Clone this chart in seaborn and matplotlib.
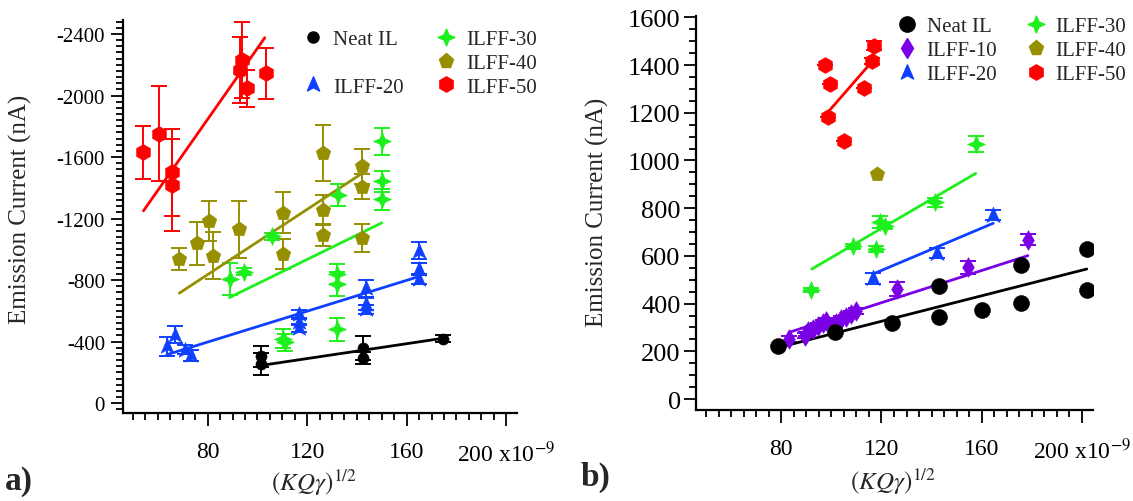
import numpy as np
import pandas as pd
import matplotlib
matplotlib.use('Agg')
import matplotlib.pyplot as plt
import seaborn as sns
from matplotlib.path import Path
from matplotlib.lines import Line2D
from matplotlib.ticker import MultipleLocator, FixedLocator, FixedFormatter

sns.set_theme(style='ticks')
plt.rcParams['font.family'] = ['Liberation Serif', 'DejaVu Serif']
plt.rcParams['mathtext.fontset'] = 'stix'
plt.rcParams['axes.unicode_minus'] = False

# ---------------- panel a) data ----------------
neat_a_x = [101.4, 101.4, 142.6, 142.6, 174.7]
neat_a_y = [-304, -256, -358, -293, -420]
neat_a_err = [70, 72, 80, 40, 22]
neat_a_fit_x = [101.4, 174.7]
neat_a_fit_y = [-245, -422]

ilff20_a_x = [63.6, 66.9, 71.0, 73.3, 116.9, 116.9, 116.9, 143.5, 143.5, 143.5, 165.1, 165.1, 165.1]
ilff20_a_y = [-369, -446, -348, -310, -577, -530, -490, -746, -643, -610, -992, -872, -807]
ilff20_a_err = [64, 57, 30, 35, 30, 25, 25, 55, 40, 30, 55, 40, 30]
ilff20_a_fit_x = [63.6, 165.1]
ilff20_a_fit_y = [-315, -824]

ilff30_a_x = [88.8, 94.8, 105.8, 110.4, 111.1, 132.1, 132.1, 132.1, 132.5, 150.0, 150.0, 150.0]
ilff30_a_y = [-807, -855, -1084, -420, -395, -839, -774, -479, -1353, -1703, -1441, -1325]
ilff30_a_err = [107, 25, 25, 60, 55, 66, 77, 73, 71, 87, 66, 70]
ilff30_a_fit_x = [88.8, 150.0]
ilff30_a_fit_y = [-687, -1172]

ilff40_a_x = [68.6, 75.7, 80.7, 82.3, 92.7, 110.4, 110.4, 126.5, 126.5, 126.5, 142.2, 142.2, 142.2]
ilff40_a_y = [-938, -1040, -1182, -959, -1130, -1239, -970, -1626, -1255, -1091, -1539, -1408, -1073]
ilff40_a_err = [71, 140, 131, 155, 186, 131, 100, 184, 98, 71, 115, 83, 90]
ilff40_a_fit_x = [68.6, 142.2]
ilff40_a_fit_y = [-715, -1495]

ilff50_a_x = [54.2, 60.6, 65.7, 65.7, 93.7, 93.0, 95.7, 103.4]
ilff50_a_y = [-1631, -1751, -1500, -1418, -2231, -2166, -2046, -2144]
ilff50_a_err = [173, 309, 282, 300, 249, 214, 120, 167]
ilff50_a_fit_x = [54.2, 103.0]
ilff50_a_fit_y = [-1250, -2376]

# ---------------- panel b) data ----------------
neat_b_x = [78.9, 101.3, 124.3, 143.0, 143.0, 160.2, 175.6, 175.6, 202.1, 202.1]
neat_b_y = [223, 282, 319, 472, 343, 374, 562, 401, 629, 457]
neat_b_fit_x = [79.3, 201.9]
neat_b_fit_y = [217, 545]

ilff10_b_x = [83.0, 89.3, 89.8, 90.7, 92.7, 94.7, 96.7, 98.0, 102.0, 104.0, 106.0, 108.0, 109.7, 126.0, 154.6, 178.4]
ilff10_b_y = [252, 265, 273, 286, 293, 307, 319, 328, 319, 335, 342, 356, 370, 461, 552, 668]
ilff10_b_err = [12, 10, 10, 12, 12, 12, 12, 12, 12, 12, 12, 12, 12, 28, 28, 22]
ilff10_b_fit_x = [83.3, 178.4]
ilff10_b_fit_y = [280, 601]

ilff20_b_x = [116.6, 142.0, 164.6]
ilff20_b_y = [506, 612, 772]
ilff20_b_err = [22, 22, 20]
ilff20_b_fit_x = [116.6, 164.6]
ilff20_b_fit_y = [524, 737]

ilff30_b_x = [92.0, 108.5, 117.7, 119.5, 121.3, 141.3, 157.7]
ilff30_b_y = [457, 640, 630, 741, 727, 825, 1069]
ilff30_b_err = [8, 12, 12, 25, 15, 18, 32]
ilff30_b_fit_x = [92.2, 157.6]
ilff30_b_fit_y = [545, 946]

ilff40_b_x = [118.2]
ilff40_b_y = [943]

ilff50_b_x = [97.4, 99.3, 98.6, 104.9, 112.9, 116.2, 116.9]
ilff50_b_y = [1402, 1321, 1181, 1080, 1303, 1418, 1481]
ilff50_b_err = [0, 0, 0, 0, 0, 12, 18]
ilff50_b_fit_x = [98.6, 116.0]
ilff50_b_fit_y = [1202, 1412]

labels = ['Neat IL', 'ILFF-10', 'ILFF-20', 'ILFF-30', 'ILFF-40', 'ILFF-50']
colors = ['#000000', '#7A00E6', '#0F40FF', '#1EF01E', '#968F00', '#FF0000']

xticks = [80, 120, 160, 200]
xticklabels = ['80', '120', '160', '200 x10$^{-9}$']
yticks_a = [0, -400, -800, -1200, -1600, -2000, -2400]
yticks_b = [0, 200, 400, 600, 800, 1000, 1200, 1400, 1600]

# ---------------- marker shapes ----------------
arrow = Path([(0, 1), (0.8, -0.85), (0, -0.42), (-0.8, -0.85), (0, 1)],
             [Path.MOVETO, Path.LINETO, Path.LINETO, Path.LINETO, Path.CLOSEPOLY])
r = 0.3
star4 = Path([(0, 1), (r, r), (1, 0), (r, -r), (0, -1), (-r, -r), (-1, 0), (-r, r), (0, 1)],
             [Path.MOVETO] + [Path.LINETO] * 7 + [Path.CLOSEPOLY])
markers = ['o', 'd', arrow, star4, 'p', 'h']

fig = plt.figure(figsize=(11.33, 5.02), dpi=100)
axa = fig.add_axes([0.1086, 0.175, 0.3478, 0.7838])
axb = fig.add_axes([0.6143, 0.1813, 0.3504, 0.7854])


def draw(ax, x, y, err, color, marker, size, fitx=None, fity=None):
    if err is not None:
        ax.errorbar(x, y, yerr=err, fmt='none', ecolor=color, elinewidth=1.4,
                    capsize=6, capthick=1.4, zorder=2)
    if fitx is not None:
        sns.lineplot(x=fitx, y=fity, ax=ax, color=color, lw=2.0, zorder=3)
    sns.scatterplot(x=x, y=y, ax=ax, marker=marker, s=size ** 2, color=color,
                    edgecolor=color, linewidth=0.4, zorder=4, legend=False)


# panel a
draw(axa, ilff40_a_x, ilff40_a_y, ilff40_a_err, colors[4], markers[4], 11, ilff40_a_fit_x, ilff40_a_fit_y)
draw(axa, ilff30_a_x, ilff30_a_y, ilff30_a_err, colors[3], markers[3], 13, ilff30_a_fit_x, ilff30_a_fit_y)
draw(axa, ilff50_a_x, ilff50_a_y, ilff50_a_err, colors[5], markers[5], 11.5, ilff50_a_fit_x, ilff50_a_fit_y)
draw(axa, ilff20_a_x, ilff20_a_y, ilff20_a_err, colors[2], markers[2], 11.5, ilff20_a_fit_x, ilff20_a_fit_y)
draw(axa, neat_a_x, neat_a_y, neat_a_err, colors[0], markers[0], 8, neat_a_fit_x, neat_a_fit_y)

# panel b
draw(axb, ilff50_b_x, ilff50_b_y, ilff50_b_err, colors[5], markers[5], 11.5, ilff50_b_fit_x, ilff50_b_fit_y)
draw(axb, ilff40_b_x, ilff40_b_y, None, colors[4], markers[4], 11)
draw(axb, ilff30_b_x, ilff30_b_y, ilff30_b_err, colors[3], markers[3], 13, ilff30_b_fit_x, ilff30_b_fit_y)
draw(axb, ilff20_b_x, ilff20_b_y, ilff20_b_err, colors[2], markers[2], 12, ilff20_b_fit_x, ilff20_b_fit_y)
draw(axb, ilff10_b_x, ilff10_b_y, ilff10_b_err, colors[1], markers[1], 10, ilff10_b_fit_x, ilff10_b_fit_y)
draw(axb, neat_b_x, neat_b_y, None, colors[0], markers[0], 11.5, neat_b_fit_x, neat_b_fit_y)

# axes styling
for ax in (axa, axb):
    ax.set_xlim(46, 204.4)
    ax.xaxis.set_major_locator(FixedLocator(xticks))
    ax.xaxis.set_major_formatter(FixedFormatter(xticklabels))
    ax.xaxis.set_minor_locator(MultipleLocator(5))
    for s in ('top', 'right'):
        ax.spines[s].set_visible(False)
    for s in ('left', 'bottom'):
        ax.spines[s].set_linewidth(1.6)
        ax.spines[s].set_color('black')
    ax.tick_params(which='both', direction='out', color='black', width=1.3, labelcolor='black')
    ax.tick_params(which='major', length=9)
    ax.tick_params(which='minor', length=5)
    ax.tick_params(axis='x', which='major', labelsize=17, pad=11)
    ax.set_xlabel(r'$(\mathit{KQ\gamma})^{1/2}$', fontsize=18, labelpad=0)
    ax.set_ylabel('Emission Current (nA)', fontsize=18)
    ax.grid(False)

axa.set_ylim(65, -2493)
axa.yaxis.set_major_locator(FixedLocator(yticks_a))
axa.yaxis.set_major_formatter(FixedFormatter([str(v) for v in yticks_a]))
axa.yaxis.set_minor_locator(MultipleLocator(40))
axa.tick_params(axis='y', which='major', labelsize=15, pad=4)
axa.yaxis.set_label_coords(-0.231, 0.52)
axa.xaxis.set_label_coords(0.485, -0.135)

axb.set_ylim(-46, 1607)
axb.yaxis.set_major_locator(FixedLocator(yticks_b))
axb.yaxis.set_major_formatter(FixedFormatter([str(v) for v in yticks_b]))
axb.yaxis.set_minor_locator(MultipleLocator(50))
axb.tick_params(axis='y', which='major', labelsize=19, pad=2)
axb.yaxis.set_label_coords(-0.219, 0.505)
axb.xaxis.set_label_coords(0.496, -0.142)


def handle(i, size):
    return Line2D([], [], ls='none', marker=markers[i], ms=size, color=colors[i], mec=colors[i])


blank = Line2D([], [], ls='none', marker=None)
ha = [handle(0, 8), blank, handle(2, 11), handle(3, 12), handle(4, 11), handle(5, 11)]
la = ['Neat IL', ' ', 'ILFF-20', 'ILFF-30', 'ILFF-40', 'ILFF-50']
axa.legend(ha, la, ncol=2, loc='upper left', bbox_to_anchor=(0.456, 0.975), frameon=False,
           fontsize=15, borderpad=0, handlelength=1.0, handletextpad=0.45,
           columnspacing=1.55, labelspacing=0.2, borderaxespad=0)

hb = [handle(0, 11), handle(1, 10), handle(2, 11), handle(3, 12), handle(4, 11), handle(5, 11)]
axb.legend(hb, labels, ncol=2, loc='upper left', bbox_to_anchor=(0.505, 0.997), frameon=False,
           fontsize=15, borderpad=0, handlelength=1.0, handletextpad=0.45,
           columnspacing=1.35, labelspacing=0.2, borderaxespad=0)

fig.text(0.004, 0.025, 'a)', fontsize=24, fontweight='bold', va='baseline')
fig.text(0.512, 0.032, 'b)', fontsize=24, fontweight='bold', va='baseline')

fig.savefig('out.png', dpi=100)
